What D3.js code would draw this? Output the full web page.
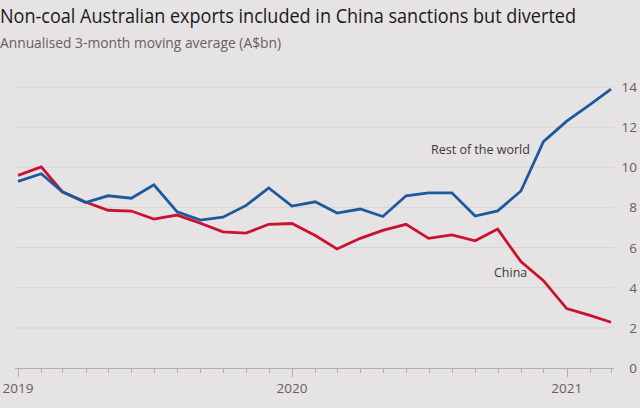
<!DOCTYPE html>
<html>
<head>
<meta charset="utf-8">
<script src="https://cdn.jsdelivr.net/npm/d3@7"></script>
<style>
  html, body { margin: 0; padding: 0; background: #e6e3e4; }
  svg { display: block; }
</style>
</head>
<body>
<svg id="chart" width="640" height="408"></svg>
<script>
// ---- data ----
const months = [
  "2019-01","2019-02","2019-03","2019-04","2019-05","2019-06","2019-07","2019-08","2019-09","2019-10","2019-11","2019-12",
  "2020-01","2020-02","2020-03","2020-04","2020-05","2020-06","2020-07","2020-08","2020-09","2020-10","2020-11","2020-12",
  "2021-01","2021-02","2021-03"
];
const restOfWorld = [9.3, 9.68, 8.78, 8.24, 8.58, 8.46, 9.13, 7.78, 7.37, 7.51, 8.1, 8.97,
  8.07, 8.28, 7.72, 7.92, 7.55, 8.58, 8.73, 8.73, 7.57, 7.83, 8.82, 11.28,
  12.3, 13.12, 13.9];
const china = [9.6, 10.02, 8.78, 8.27, 7.86, 7.82, 7.42, 7.62, 7.21, 6.78, 6.72, 7.16,
  7.2, 6.6, 5.93, 6.46, 6.86, 7.16, 6.46, 6.63, 6.34, 6.92, 5.3, 4.35,
  2.96, 2.62, 2.28];
const yTicks = [0, 2, 4, 6, 8, 10, 12, 14];
const yearTicks = ["2019", "2020", "2021"];
const seriesNames = ["Rest of the world", "China"];

// ---- layout ----
const svg = d3.select("#chart");
const parse = d3.timeParse("%Y-%m");
const dates = months.map(parse);

const x = d3.scaleTime().domain([dates[0], dates[dates.length - 1]]).range([18, 611]);
const y = d3.scaleLinear().domain([0, 14]).range([368, 87]);

const font = "'Open Sans', 'Noto Sans', sans-serif";
const grey = "#66605c";

// title + subtitle
const title = svg.append("text").attr("x", 0).attr("y", 23)
  .attr("font-family", font).attr("font-size", 19.5).attr("fill", "#1a1817")
  .text("Non-coal Australian exports included in China sanctions but diverted");
const sub = svg.append("text").attr("x", 0).attr("y", 48)
  .attr("font-family", font).attr("font-size", 14).attr("fill", grey)
  .text("Annualised 3-month moving average (A$bn)");
function fitWidth(sel, w) {
  const len = sel.node().getComputedTextLength();
  if (len > 0) sel.attr("textLength", w).attr("lengthAdjust", "spacingAndGlyphs");
}
fitWidth(title, 576);
fitWidth(sub, 281);

// gridlines
const x0 = 15, x1 = 614;
svg.append("g").selectAll("line").data(yTicks.filter(d => d > 0)).join("line")
  .attr("x1", x0).attr("x2", x1)
  .attr("y1", d => y(d)).attr("y2", d => y(d))
  .attr("stroke", "#d8d4d4").attr("stroke-width", 1);

// y labels (right side)
svg.append("g").selectAll("text").data(yTicks).join("text")
  .attr("x", 637).attr("y", d => y(d) + 5)
  .attr("text-anchor", "end")
  .attr("font-family", font).attr("font-size", 13.5).attr("fill", grey)
  .text(d => d);

// x axis baseline
svg.append("line").attr("x1", x0).attr("x2", x1)
  .attr("y1", y(0) + 0.5).attr("y2", y(0) + 0.5)
  .attr("stroke", "#b3adab").attr("stroke-width", 1);

// monthly ticks
const tickMonths = d3.timeMonth.range(dates[0], d3.timeMonth.offset(dates[dates.length - 1], 1));
svg.append("g").selectAll("line").data(tickMonths).join("line")
  .attr("x1", d => Math.round(x(d)) + 0.5).attr("x2", d => Math.round(x(d)) + 0.5)
  .attr("y1", y(0))
  .attr("y2", d => y(0) + (d.getMonth() === 0 ? 9 : 5))
  .attr("stroke", "#b3adab").attr("stroke-width", 1);

// year labels
svg.append("g").selectAll("text").data(yearTicks).join("text")
  .attr("x", d => x(d3.timeParse("%Y")(d)))
  .attr("y", 393)
  .attr("text-anchor", "middle")
  .attr("font-family", font).attr("font-size", 13.5).attr("fill", grey)
  .text(d => d);

// lines
const line = d3.line().x((d, i) => x(dates[i])).y(d => y(d));
svg.append("path").datum(china)
  .attr("d", line).attr("fill", "none")
  .attr("stroke", "#c9122f").attr("stroke-width", 2.8)
  .attr("stroke-linejoin", "miter");
svg.append("path").datum(restOfWorld)
  .attr("d", line).attr("fill", "none")
  .attr("stroke", "#1b5a9f").attr("stroke-width", 2.8)
  .attr("stroke-linejoin", "miter");

// series labels
svg.append("text").attr("x", 431).attr("y", 154)
  .attr("font-family", font).attr("font-size", 12.5).attr("fill", "#3d3936")
  .text(seriesNames[0]);
svg.append("text").attr("x", 494).attr("y", 277)
  .attr("font-family", font).attr("font-size", 12.5).attr("fill", "#3d3936")
  .text(seriesNames[1]);
</script>
</body>
</html>
